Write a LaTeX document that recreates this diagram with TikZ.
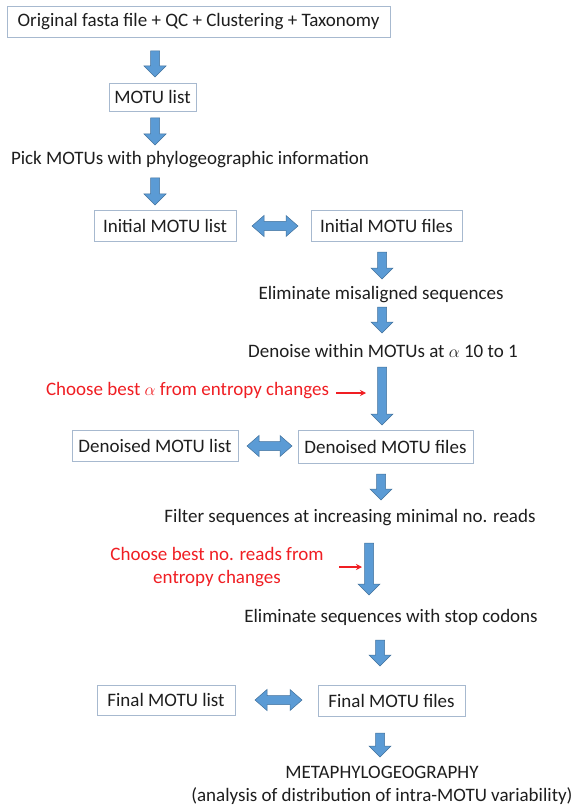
\documentclass[tikz,border=0pt]{standalone}
\usepackage{fontspec}
\setmainfont{Carlito}
\usetikzlibrary{calc,arrows.meta}
\definecolor{arrowfill}{HTML}{5B9BD5}
\definecolor{arrowdraw}{HTML}{41719C}
\definecolor{boxdraw}{HTML}{A7B9CF}
\definecolor{redtxt}{HTML}{F01E23}
\definecolor{txtcol}{HTML}{1E1E1E}
\newcommand\mydownarrow[2]{%
  \path[blockarrow] ($(#1)+(-4.5,0)$) -- ($(#2)+(-4.5,-11)$) -- ($(#2)+(-11,-11)$) -- (#2)
    -- ($(#2)+(11,-11)$) -- ($(#2)+(4.5,-11)$) -- ($(#1)+(4.5,0)$) -- cycle;}
\newcommand\mydoublearrow[2]{%
  \path[blockarrow] (#1) -- ($(#1)+(12,-10.5)$) -- ($(#1)+(12,-4.5)$) -- ($(#2)+(-12,-4.5)$)
    -- ($(#2)+(-12,-10.5)$) -- (#2) -- ($(#2)+(-12,10.5)$) -- ($(#2)+(-12,4.5)$)
    -- ($(#1)+(12,4.5)$) -- ($(#1)+(12,10.5)$) -- cycle;}
\begin{document}
\begin{tikzpicture}[x=1pt,y=-1pt,
  every node/.style={font=\fontsize{19}{23}\selectfont, text=txtcol, inner sep=0pt},
  box/.style={draw=boxdraw, line width=0.9pt, fill=white},
  plain/.style={},
  redlabel/.style={text=redtxt, align=center},
  blockarrow/.style={fill=arrowfill, draw=arrowdraw, line width=0.5pt, line join=miter},
  redarrow/.style={draw=redtxt, line width=1.4pt, -{Stealth[length=6pt,width=6pt]}}]
\useasboundingbox (0,0) rectangle (576,810);
\fill[white] (0,0) rectangle (576,810);

% boxes
\node[box, minimum width=383pt, minimum height=31pt] (orig) at (198.5,21.5) {Original fasta file + QC + Clustering + Taxonomy};
\node[box, minimum width=87pt, minimum height=28pt] (motu) at (152.5,97) {MOTU list};
\node[plain] (pick) at (190,160) {Pick MOTUs with phylogeographic information};
\node[box, minimum width=142pt, minimum height=31pt] (ilist) at (165,225.5) {Initial MOTU list};
\node[box, minimum width=151pt, minimum height=31pt] (ifiles) at (386.5,225.5) {Initial MOTU files};
\node[plain] (elim) at (381,295) {Eliminate misaligned sequences};
\node[plain] (denoise) at (383,351) {Denoise within MOTUs at $\alpha$ 10 to 1};
\node[redlabel] (choosea) at (187.5,391) {Choose best $\alpha$ from entropy changes};
\node[box, minimum width=166pt, minimum height=31pt] (dlist) at (155,445.5) {Denoised MOTU list};
\node[box, minimum width=175pt, minimum height=33pt] (dfiles) at (385.5,446.5) {Denoised MOTU files};
\node[plain] (filter) at (350,518) {Filter sequences at increasing minimal no. reads};
\node[redlabel] (chooser) at (217,567) {Choose best no. reads from\\entropy changes};
\node[plain] (stop) at (391,617) {Eliminate sequences with stop codons};
\node[box, minimum width=138pt, minimum height=30pt] (flist) at (166,700) {Final MOTU list};
\node[box, minimum width=147pt, minimum height=31pt] (ffiles) at (391.5,700.5) {Final MOTU files};
\node[plain, align=center] (meta) at (382,785) {METAPHYLOGEOGRAPHY\\(analysis of distribution of intra-MOTU variability)};

% arrow end points
\coordinate (a1t) at (155,51);  \coordinate (a1b) at (155,77);
\coordinate (a2t) at (155,118); \coordinate (a2b) at (155,145);
\coordinate (a3t) at (155,178); \coordinate (a3b) at (155,205);
\coordinate (a4t) at (382,252); \coordinate (a4b) at (382,279);
\coordinate (a5t) at (382,307); \coordinate (a5b) at (382,333);
\coordinate (a6t) at (382,367); \coordinate (a6b) at (382,425);
\coordinate (a7t) at (381,474); \coordinate (a7b) at (381,500);
\coordinate (a8t) at (369,543); \coordinate (a8b) at (369,595);
\coordinate (a9t) at (380,640); \coordinate (a9b) at (380,666);
\coordinate (a10t) at (380,733); \coordinate (a10b) at (380,757);
\coordinate (d1l) at (252,226); \coordinate (d1r) at (298,226);
\coordinate (d2l) at (247,446); \coordinate (d2r) at (292,446);
\coordinate (d3l) at (255,700); \coordinate (d3r) at (302,700);
\coordinate (r1s) at (336,393); \coordinate (r1e) at (366,393);
\coordinate (r2s) at (339,567); \coordinate (r2e) at (362,567);

\mydownarrow{a1t}{a1b}
\mydownarrow{a2t}{a2b}
\mydownarrow{a3t}{a3b}
\mydownarrow{a4t}{a4b}
\mydownarrow{a5t}{a5b}
\mydownarrow{a6t}{a6b}
\mydownarrow{a7t}{a7b}
\mydownarrow{a8t}{a8b}
\mydownarrow{a9t}{a9b}
\mydownarrow{a10t}{a10b}
\mydoublearrow{d1l}{d1r}
\mydoublearrow{d2l}{d2r}
\mydoublearrow{d3l}{d3r}
\draw[redarrow] (r1s) -- (r1e);
\draw[redarrow] (r2s) -- (r2e);
\end{tikzpicture}
\end{document}
